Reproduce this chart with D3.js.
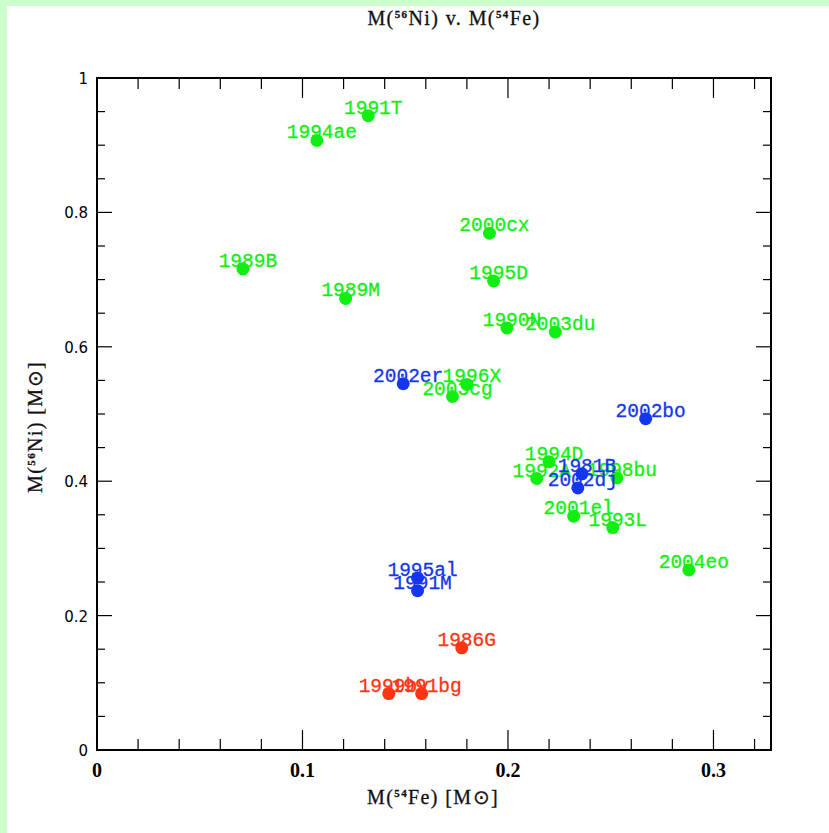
<!DOCTYPE html>
<html><head><meta charset="utf-8">
<script src="https://cdn.jsdelivr.net/npm/d3@7"></script>
<style>
html,body{margin:0;padding:0;background:#fff;}
svg{display:block;}
</style></head>
<body>
<script>
// ---- data ----
const names = ["1991T","1994ae","2000cx","1989B","1995D","1989M","1990N","2003du","2003cg","1996X","1994D","1992A","1998bu","2001el","1993L","2004eo",
               "2002er","2002bo","1981B","2002dj","1995al","1991M",
               "1986G","1999by","1991bg"];
const fe54 = [0.132,0.107,0.191,0.071,0.193,0.121,0.1995,0.223,0.173,0.180,0.220,0.214,0.253,0.232,0.251,0.288,
              0.149,0.267,0.236,0.234,0.156,0.156,
              0.1775,0.142,0.158];
const ni56 = [0.944,0.907,0.769,0.716,0.698,0.672,0.628,0.622,0.526,0.544,0.429,0.404,0.405,0.348,0.331,0.268,
              0.545,0.493,0.411,0.390,0.256,0.237,
              0.152,0.084,0.084];
const group = ["g","g","g","g","g","g","g","g","g","g","g","g","g","g","g","g",
               "b","b","b","b","b","b",
               "r","r","r"];
const xTicks = [0,0.1,0.2,0.3];
const yTicks = [0,0.2,0.4,0.6,0.8,1];
const colors = {g:"#12ee12", b:"#1436ee", r:"#ff3414"};

const W=829,H=833;
const svg=d3.select("body").append("svg").attr("width",W).attr("height",H);
svg.append("rect").attr("width",W).attr("height",H).attr("fill","#fff");
svg.append("rect").attr("x",0).attr("y",0).attr("width",W).attr("height",6).attr("fill","#ccffcc");
svg.append("rect").attr("x",0).attr("y",0).attr("width",7).attr("height",H).attr("fill","#ccffcc");

const L=97,R=771,T=78,B=750;
const x=d3.scaleLinear().domain([0,0.328]).range([L,R]);
const y=d3.scaleLinear().domain([0,1]).range([B,T]);

// ticks
const g=svg.append("g").attr("stroke","#000").attr("stroke-width",1.2);
const xMinor=d3.range(0,0.3281,0.02);
xMinor.forEach(v=>{
  const major=Math.abs(v*10-Math.round(v*10))<1e-6;
  const len=major?20:11;
  g.append("line").attr("x1",x(v)).attr("x2",x(v)).attr("y1",B).attr("y2",B-len);
  g.append("line").attr("x1",x(v)).attr("x2",x(v)).attr("y1",T).attr("y2",T+len);
});
const yMinor=d3.range(0,1.0001,0.05);
yMinor.forEach(v=>{
  const major=Math.abs(v*5-Math.round(v*5))<1e-6;
  const len=major?15:8;
  g.append("line").attr("y1",y(v)).attr("y2",y(v)).attr("x1",L).attr("x2",L+len);
  g.append("line").attr("y1",y(v)).attr("y2",y(v)).attr("x1",R).attr("x2",R-len);
});
svg.append("rect").attr("x",L).attr("y",T).attr("width",R-L).attr("height",B-T)
  .attr("fill","none").attr("stroke","#000").attr("stroke-width",2);

// tick labels
svg.selectAll(".xt").data(xTicks).enter().append("text")
  .attr("x",d=>x(d)).attr("y",B+27).attr("text-anchor","middle")
  .attr("font-family","Liberation Serif").attr("font-size",20).attr("font-weight","bold")
  .text(d=>d3.format("")(d));
svg.selectAll(".yt").data(yTicks).enter().append("text")
  .attr("x",L-9).attr("y",d=>y(d)+6).attr("text-anchor","end")
  .attr("font-family","DejaVu Sans").attr("font-size",15)
  .text(d=>d3.format("")(d));

// titles
const serif="Liberation Serif";
function supLabel(sel, parts){
  parts.forEach(p=>{
    if(p.sup){ sel.append("tspan").attr("font-size",11).attr("font-weight","bold").attr("dy",-7).text(p.t); }
    else { sel.append("tspan").attr("dy",p.after?7:0).text(p.t); }
  });
}
const title=svg.append("text").attr("x",454).attr("y",25).attr("text-anchor","middle")
  .attr("font-family",serif).attr("font-size",20).attr("letter-spacing",1.4).attr("fill","#111")
  .attr("stroke","#111").attr("stroke-width",0.3).attr("xml:space","preserve");
supLabel(title,[{t:"M("},{t:"56",sup:1},{t:"Ni) v. M(",after:1},{t:"54",sup:1},{t:"Fe)",after:1}]);

const xl=svg.append("text").attr("x",433).attr("y",804).attr("text-anchor","middle")
  .attr("font-family",serif).attr("font-size",20).attr("letter-spacing",1.4).attr("fill","#111")
  .attr("stroke","#111").attr("stroke-width",0.3).attr("xml:space","preserve");
supLabel(xl,[{t:"M("},{t:"54",sup:1},{t:"Fe) [M⊙]",after:1}]);

const yl=svg.append("text").attr("transform","translate(42,427) rotate(-90)").attr("text-anchor","middle")
  .attr("font-family",serif).attr("font-size",20).attr("letter-spacing",1.4).attr("fill","#111")
  .attr("stroke","#111").attr("stroke-width",0.3).attr("xml:space","preserve");
supLabel(yl,[{t:"M("},{t:"56",sup:1},{t:"Ni) [M⊙]",after:1}]);

// points
const idx=d3.range(names.length);
["g","b","r"].forEach(k=>{
  const ids=idx.filter(i=>group[i]===k);
  const gg=svg.append("g");
  gg.selectAll("text").data(ids).enter().append("text")
    .attr("x",i=>x(fe54[i])+5).attr("y",i=>y(ni56[i])-2)
    .attr("text-anchor","middle").attr("font-family","Liberation Mono").attr("font-size",19.5)
    .attr("fill",colors[k]).attr("stroke",colors[k]).attr("stroke-width",0.3)
    .text(i=>names[i]);
  gg.selectAll("circle").data(ids).enter().append("circle")
    .attr("cx",i=>x(fe54[i])).attr("cy",i=>y(ni56[i])).attr("r",6.5).attr("fill",colors[k]);
});
</script>
</body></html>
